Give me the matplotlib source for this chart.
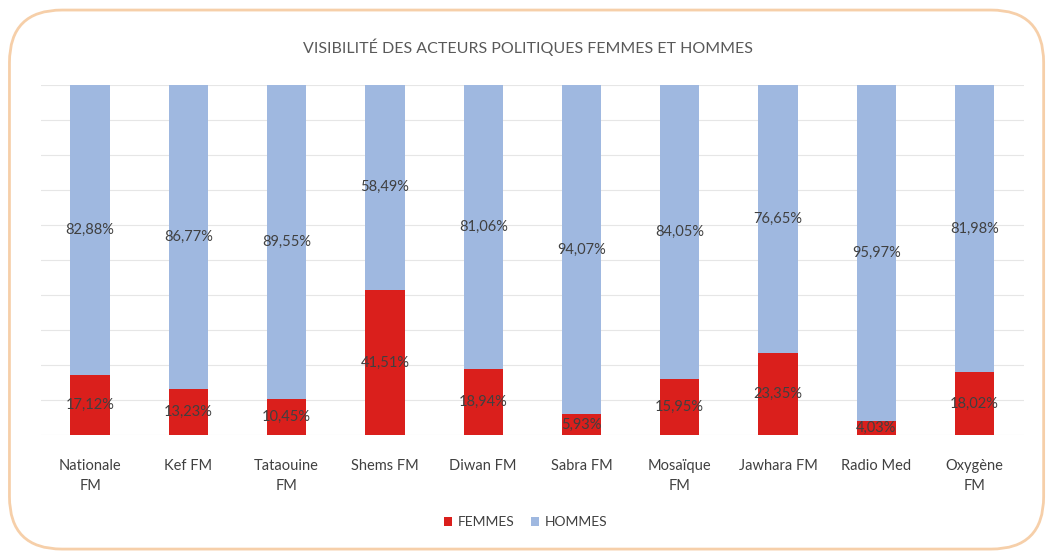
"""
Visibilite des acteurs politiques femmes et hommes - stacked bars
"""

import numpy as np
import matplotlib.pyplot as plt
from matplotlib.patches import FancyBboxPatch

radios = ['Nationale\nFM', 'Kef FM', 'Tataouine\nFM', 'Shems FM', 'Diwan FM',
          'Sabra FM', 'Mosaïque\nFM', 'Jawhara FM', 'Radio Med', 'Oxygène\nFM']
femmes = [17.12, 13.23, 10.45, 41.51, 18.94, 5.93, 15.95, 23.35, 4.03, 18.02]
hommes = [82.88, 86.77, 89.55, 58.49, 81.06, 94.07, 84.05, 76.65, 95.97, 81.98]

red = '#DA1F1C'
blue = '#9FB8E0'
txt = '#404040'

plt.rcParams['font.family'] = ['Lato', 'DejaVu Sans']

fig = plt.figure(figsize=(10.51, 5.58), dpi=100)
ax = fig.add_axes([0.039, 0.22, 0.935, 0.628])

# rounded frame round the whole picture
frame = FancyBboxPatch((0.009, 0.016), 0.984, 0.966, boxstyle='round,pad=0,rounding_size=0.05',
                       transform=fig.transFigure, fill=False, edgecolor='#F6CFA9', lw=2,
                       mutation_aspect=1.88)
fig.patches.append(frame)

x = np.arange(len(radios))
ax.bar(x, femmes, width=0.4, color=red, label='FEMMES', zorder=3)
ax.bar(x, hommes, width=0.4, bottom=femmes, color=blue, label='HOMMES', zorder=3)

for i in range(len(radios)):
    ax.text(x[i], femmes[i] / 2, ('%.2f%%' % femmes[i]).replace('.', ','),
            ha='center', va='center', fontsize=10.5, color=txt, zorder=4)
    ax.text(x[i], femmes[i] + hommes[i] / 2, ('%.2f%%' % hommes[i]).replace('.', ','),
            ha='center', va='center', fontsize=10.5, color=txt, zorder=4)

ax.set_xlim(-0.5, len(radios) - 0.5)
ax.set_ylim(0, 100)
ax.set_yticks(np.arange(0, 101, 10))
ax.set_yticklabels([])
ax.tick_params(axis='y', length=0)
ax.tick_params(axis='x', length=0, pad=17, labelsize=10.5, labelcolor=txt)
ax.set_xticks(x)
ax.set_xticklabels(radios, linespacing=1.6)
ax.grid(axis='y', color='#E6E6E6', lw=0.8, zorder=0)
for s in ax.spines.values():
    s.set_visible(False)

fig.text(0.502, 0.915, 'VISIBILITÉ DES ACTEURS POLITIQUES FEMMES ET HOMMES',
         ha='center', va='center', fontsize=11.5, color='#595959')

fig.legend(loc='center', bbox_to_anchor=(0.5, 0.064), ncol=2, frameon=False,
           fontsize=10, handlelength=0.6, handleheight=0.6, columnspacing=1.2,
           handletextpad=0.4, labelcolor=txt)

plt.savefig('out.png', dpi=100)
